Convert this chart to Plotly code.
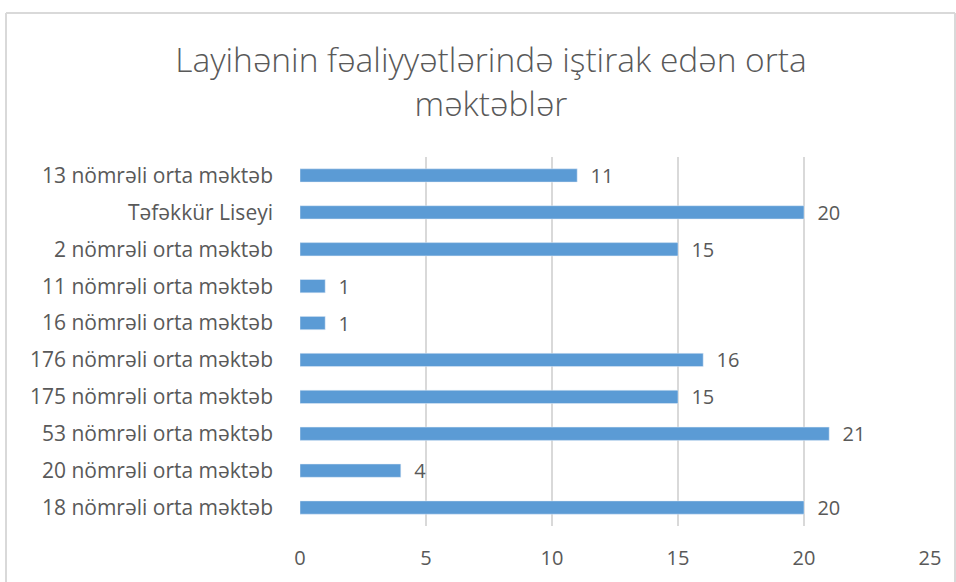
import plotly.graph_objects as go

categories = [
    "18 nömrəli orta məktəb",
    "20 nömrəli orta məktəb",
    "53 nömrəli orta məktəb",
    "175 nömrəli orta məktəb",
    "176 nömrəli orta məktəb",
    "16 nömrəli orta məktəb",
    "11 nömrəli orta məktəb",
    "2 nömrəli orta məktəb",
    "Təfəkkür Liseyi",
    "13 nömrəli orta məktəb",
]
values = [20, 4, 21, 15, 16, 1, 1, 15, 20, 11]
x_ticks = [0, 5, 10, 15, 20, 25]
title = "Layihənin fəaliyyətlərində iştirak edən orta<br>məktəblər"

W, H = 956, 582
L, R, T, B = 300, 26, 156.5, 55.5
pw, ph = W - L - R, H - T - B

def px(x):
    return (x - L) / pw

def py(y):
    return (H - B - y) / ph

fig = go.Figure(go.Bar(
    y=categories, x=values, orientation="h",
    marker=dict(color="#5B9BD5"),
    width=0.36,
    texttemplate="  %{x}", textposition="outside",
    constraintext="none",
    textfont=dict(family="Open Sans", size=20, color="#595959"),
    cliponaxis=False,
))

border = "#D9D9D9"
fig.update_layout(
    width=W, height=H,
    margin=dict(l=L, r=R, t=T, b=B),
    paper_bgcolor="white", plot_bgcolor="white",
    showlegend=False,
    title=dict(text=title, x=px(491), xref="paper", xanchor="center",
               y=1 - 72 / H, yanchor="middle",
               font=dict(family="Open Sans", size=33.5, color="#595959", weight=300)),
    xaxis=dict(range=[0, 25], tickvals=x_ticks, showgrid=True, gridcolor="#D9D9D9",
               gridwidth=1.5, zeroline=False, showline=False, ticks="",
               tickfont=dict(family="Open Sans", size=20, color="#595959"),
               ticklabelstandoff=18),
    yaxis=dict(showgrid=False, zeroline=False, showline=False, ticks="",
               tickfont=dict(family="Open Sans", size=21, color="#595959"),
               ticklabelstandoff=26),
    shapes=[
        dict(type="line", xref="paper", yref="paper", x0=px(6), x1=px(6), y0=py(12), y1=py(600),
             line=dict(color=border, width=2)),
        dict(type="line", xref="paper", yref="paper", x0=px(6), x1=px(955), y0=py(12), y1=py(12),
             line=dict(color=border, width=2)),
        dict(type="line", xref="paper", yref="paper", x0=px(955), x1=px(955), y0=py(12), y1=py(600),
             line=dict(color=border, width=2)),
    ],
)
fig.write_html("out.html", config={"displayModeBar": False},
               post_script="document.body.style.margin='0';")
